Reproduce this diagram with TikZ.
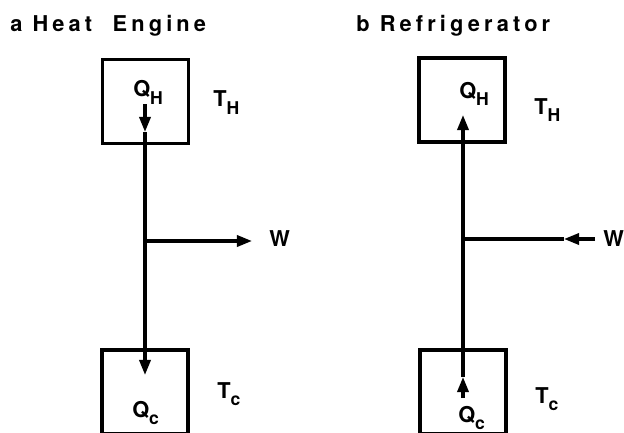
\documentclass[tikz,border=0pt]{standalone}
\usepackage{fontspec}
\setmainfont{TeX Gyre Heros}[LetterSpace=19]
\usetikzlibrary{arrows.meta,positioning}
\newcommand\idx[1]{\raisebox{-0.6ex}{\fontsize{12.5}{13}\selectfont #1}}

\begin{document}
\begin{tikzpicture}[x=0.025cm,y=-0.025cm,font=\fontsize{15.5}{18}\selectfont\bfseries,
  >={Triangle[length=0.38cm,width=0.28cm]},
  res/.style={draw,line width=2.3pt,minimum width=2.15cm,minimum height=2.1cm},
  lbl/.style={anchor=base west,inner sep=0pt},
  flow/.style={->,line width=2.3pt},
  wire/.style={line width=2.3pt}]
  \useasboundingbox (0,0) rectangle (624,433);
  \clip (0,0) rectangle (624,433);
  % a: heat engine
  \node[lbl] (titleA) at (10,32) {a Heat\ \ Engine};
  \node[res] (hotA) at (145.5,101.5) {};
  \node[res] (coldA) at (145,392) {};
  \node[lbl] (qhA) at (133,97) {Q\idx{H}};
  \node[lbl] (thA) at (213,107) {T\idx{H}};
  \node[lbl] (qcA) at (132,417) {Q\idx{c}};
  \node[lbl] (tcA) at (217,398) {T\idx{c}};
  \node[lbl] (wA) at (269,246) {W};
  \coordinate (startA) at (145,104);
  \coordinate (tipA) at (145,132);
  \coordinate (jA) at (145,241);
  \coordinate (endA) at (145,375);
  \coordinate (wtipA) at (252,241);
  \draw[flow] (startA) -- (tipA);
  \draw[flow] (tipA) -- (endA);
  \draw[flow] (jA) -- (wtipA);
  % b: refrigerator
  \node[lbl] (titleB) at (356,32) {b Refrigerator};
  \node[res] (hotB) at (462,100) {};
  \node[res] (coldB) at (463,392) {};
  \node[lbl] (qhB) at (459,98) {Q\idx{H}};
  \node[lbl] (thB) at (534,114) {T\idx{H}};
  \node[lbl] (qcB) at (458,422) {Q\idx{c}};
  \node[lbl] (tcB) at (535,403) {T\idx{c}};
  \node[lbl] (wB) at (603,246) {W};
  \coordinate (startB) at (463,398);
  \coordinate (tipB) at (463,377);
  \coordinate (jB) at (463,239);
  \coordinate (endB) at (463,115);
  \coordinate (wsB) at (595,239);
  \coordinate (wtipB) at (564,239);
  \draw[flow] (startB) -- (tipB);
  \draw[flow] (tipB) -- (endB);
  \draw[flow] (wsB) -- (wtipB);
  \draw[wire] (wtipB) -- (jB);
\end{tikzpicture}
\end{document}
